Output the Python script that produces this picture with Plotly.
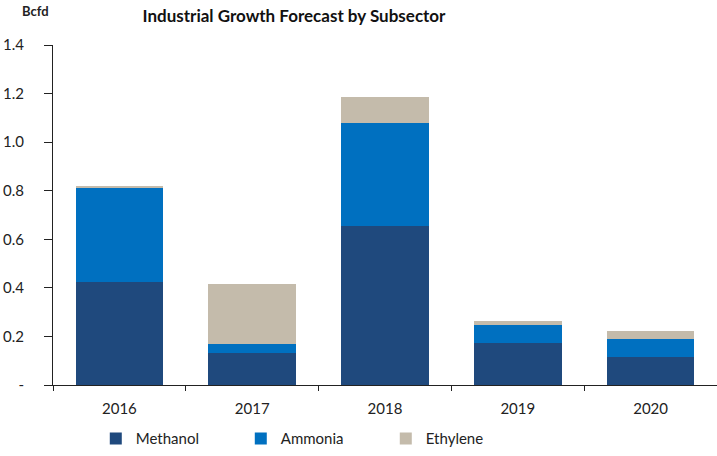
import plotly.graph_objects as go

years = ["2016", "2017", "2018", "2019", "2020"]
methanol = [0.425, 0.133, 0.656, 0.171, 0.117]
ammonia = [0.385, 0.036, 0.421, 0.075, 0.071]
ethylene = [0.010, 0.245, 0.107, 0.016, 0.033]

y_tickvals = [0, 0.2, 0.4, 0.6, 0.8, 1.0, 1.2, 1.4]
y_ticktext = ["-", "0.2", "0.4", "0.6", "0.8", "1.0", "1.2", "1.4"]

FONT = "Lato, 'Open Sans', sans-serif"

fig = go.Figure()
fig.add_trace(go.Bar(x=years, y=methanol, name="Methanol", marker_color="#1F497D", marker_line_width=0))
fig.add_trace(go.Bar(x=years, y=ammonia, name="Ammonia", marker_color="#0070C0", marker_line_width=0))
fig.add_trace(go.Bar(x=years, y=ethylene, name="Ethylene", marker_color="#C4BBAB", marker_line_width=0))

fig.update_layout(
    barmode="stack",
    bargap=0.34,
    width=717, height=456,
    margin=dict(l=53, r=0, t=45, b=71),
    paper_bgcolor="white", plot_bgcolor="white",
    font=dict(family=FONT, size=15, color="#222222"),
    title=dict(text="<b>Industrial Growth Forecast by Subsector</b>", x=294/717, xanchor="center",
               y=1 - 16/456, yanchor="middle", font=dict(size=17, color="#111111")),
    legend=dict(orientation="h", x=0.392, xanchor="center", y=-0.158, yanchor="middle",
                entrywidth=100, entrywidthmode="pixels", font=dict(size=15), traceorder="normal",
                itemwidth=30),
    annotations=[dict(text="<b>Bcfd</b>", x=-18/664, xref="paper", y=(385 - 11) / 340, yref="paper",
                      xanchor="center", yanchor="middle", showarrow=False,
                      font=dict(size=13, color="#222222"))],
)
fig.update_yaxes(range=[0, 1.4], tickvals=y_tickvals, ticktext=y_ticktext,
                 showline=True, linecolor="#222222", linewidth=1,
                 ticks="outside", ticklen=8, tickcolor="#222222",
                 showgrid=False, zeroline=False, ticklabelstandoff=17,
                 tickfont=dict(size=15))
fig.update_xaxes(showline=True, linecolor="#222222", linewidth=1,
                 ticks="outside", ticklen=5, tickcolor="#222222", tickson="boundaries",
                 showgrid=False, tickfont=dict(size=15), ticklabelstandoff=10)

fig.write_html("out.html")
